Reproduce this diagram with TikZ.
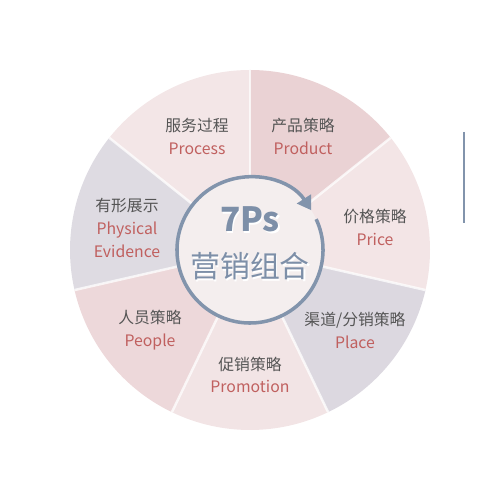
\documentclass[tikz,border=0pt]{standalone}
\usepackage{fontspec}
\usepackage{xcolor}
\usetikzlibrary{arrows.meta}
\setmainfont{Noto Sans CJK SC}
\definecolor{prodC}{HTML}{EAD2D4}
\definecolor{priceC}{HTML}{F3E5E6}
\definecolor{placeC}{HTML}{DCD8E0}
\definecolor{promoC}{HTML}{F2E4E5}
\definecolor{peopleC}{HTML}{EDD8DA}
\definecolor{physC}{HTML}{DEDBE2}
\definecolor{procC}{HTML}{F3E6E7}
\definecolor{hubC}{HTML}{F4EEEE}
\definecolor{cnC}{HTML}{555555}
\definecolor{enC}{HTML}{C0605F}
\definecolor{ringC}{HTML}{8294AC}
\definecolor{titleC}{HTML}{7D8FA8}
\tikzset{
  label/.style={align=center, font=\fontsize{9}{13}\selectfont},
  gap/.style={draw=white, line width=1.4pt, opacity=0.75},
  hubtext/.style={align=center, font=\fontsize{17}{26}\selectfont}
}

\begin{document}
\begin{tikzpicture}
\useasboundingbox (-5,-5) rectangle (5,5);
\coordinate (O) at (0,0);
% sectors
\fill[prodC] (O) -- (90:3.6) arc[start angle=90, end angle=38.57, radius=3.6] -- cycle;
\fill[priceC] (O) -- (38.57:3.6) arc[start angle=38.57, end angle=-12.86, radius=3.6] -- cycle;
\fill[placeC] (O) -- (-12.86:3.6) arc[start angle=-12.86, end angle=-64.29, radius=3.6] -- cycle;
\fill[promoC] (O) -- (-64.29:3.6) arc[start angle=-64.29, end angle=-115.71, radius=3.6] -- cycle;
\fill[peopleC] (O) -- (-115.71:3.6) arc[start angle=-115.71, end angle=-167.14, radius=3.6] -- cycle;
\fill[physC] (O) -- (-167.14:3.6) arc[start angle=-167.14, end angle=-218.57, radius=3.6] -- cycle;
\fill[procC] (O) -- (141.43:3.6) arc[start angle=141.43, end angle=90, radius=3.6] -- cycle;
% dividers
\foreach \a in {90,38.57,-12.86,-64.29,-115.71,-167.14,141.43}
  \draw[gap] (O) -- (\a:3.6);
% hub
\fill[hubC] (O) circle[radius=1.46];
\draw[ringC, line width=2pt, -{Triangle[length=0.27cm, width=0.32cm]}]
  (25:1.46) arc[start angle=25, end angle=-327, radius=1.46];
\node[hubtext, text=white] at (0.03,0.1) {{\fontsize{19}{26}\selectfont\bfseries 7Ps}\\营销组合};
\node[hubtext, text=titleC] (hub) at (0,0.13) {{\fontsize{19}{26}\selectfont\bfseries 7Ps}\\营销组合};
% labels
\node[label] (process) at (-1.06,2.27) {\color{cnC}服务过程\\\color{enC}Process};
\node[label] (product) at (1.06,2.27) {\color{cnC}产品策略\\\color{enC}Product};
\node[label] (price) at (2.5,0.45) {\color{cnC}价格策略\\\color{enC}Price};
\node[label] (place) at (2.1,-1.61) {\color{cnC}渠道/分销策略\\\color{enC}Place};
\node[label] (promotion) at (0,-2.5) {\color{cnC}促销策略\\\color{enC}Promotion};
\node[label] (people) at (-2.0,-1.6) {\color{cnC}人员策略\\\color{enC}People};
\node[label] (evidence) at (-2.46,0.44) {\color{cnC}有形展示\\\color{enC}Physical\\\color{enC}Evidence};
% side bar
\draw[ringC, line width=1.2pt] (4.28,2.36) -- (4.28,0.54);
\end{tikzpicture}
\end{document}
